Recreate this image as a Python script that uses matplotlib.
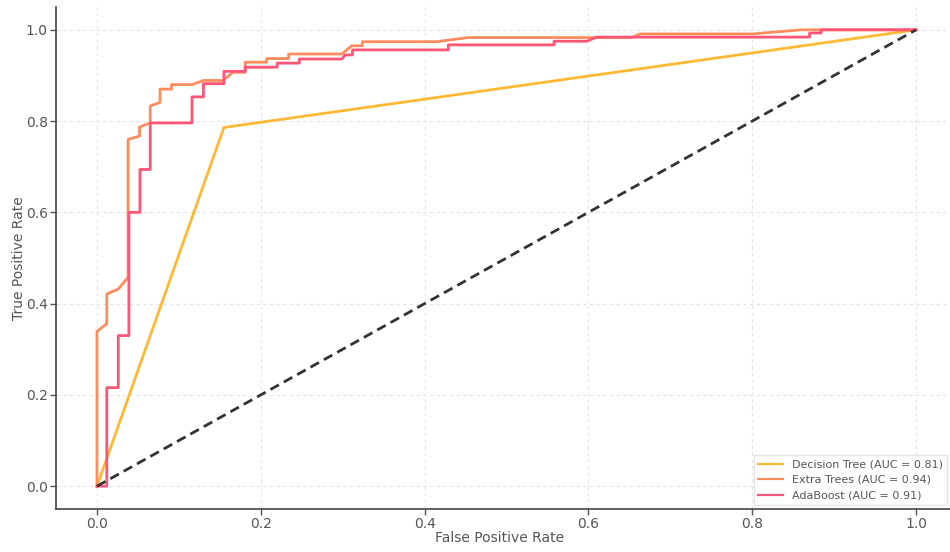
import matplotlib
matplotlib.use("Agg")
import matplotlib.pyplot as plt

# ---- data ----
dt_fpr = [0.0, 0.155, 1.0]
dt_tpr = [0.0, 0.786, 1.0]

et_fpr = [0.0, 0.0, 0.012, 0.012, 0.026, 0.038, 0.038, 0.052, 0.052, 0.065, 0.065, 0.077,
          0.077, 0.091, 0.091, 0.116, 0.130, 0.154, 0.166, 0.181, 0.181, 0.207, 0.207,
          0.234, 0.234, 0.299, 0.311, 0.324, 0.324, 0.415, 0.453, 0.653, 0.663, 0.80,
          0.86, 1.0]
et_tpr = [0.0, 0.339, 0.356, 0.421, 0.432, 0.458, 0.760, 0.767, 0.787, 0.796, 0.833, 0.841,
          0.870, 0.870, 0.880, 0.880, 0.889, 0.889, 0.907, 0.907, 0.929, 0.929, 0.937,
          0.937, 0.947, 0.947, 0.965, 0.965, 0.974, 0.974, 0.983, 0.983, 0.991, 0.991,
          1.0, 1.0]

ab_fpr = [0.0, 0.012, 0.012, 0.026, 0.026, 0.039, 0.039, 0.0525, 0.0525, 0.065, 0.065,
          0.116, 0.116, 0.130, 0.130, 0.155, 0.155, 0.181, 0.181, 0.220, 0.220, 0.247,
          0.247, 0.299, 0.303, 0.312, 0.312, 0.429, 0.429, 0.558, 0.558, 0.598, 0.610,
          0.870, 0.870, 0.884, 0.884, 1.0]
ab_tpr = [0.0, 0.0, 0.216, 0.216, 0.330, 0.330, 0.600, 0.600, 0.694, 0.694, 0.796,
          0.796, 0.853, 0.853, 0.882, 0.882, 0.909, 0.909, 0.918, 0.918, 0.927, 0.927,
          0.936, 0.936, 0.945, 0.945, 0.956, 0.956, 0.967, 0.967, 0.975, 0.975, 0.984,
          0.984, 0.993, 0.993, 1.0, 1.0]

labels = ["Decision Tree (AUC = 0.81)", "Extra Trees (AUC = 0.94)", "AdaBoost (AUC = 0.91)"]
colors = ["#FFB833", "#FF8C5C", "#FF5577"]

xticks = [0.0, 0.2, 0.4, 0.6, 0.8, 1.0]
yticks = [0.0, 0.2, 0.4, 0.6, 0.8, 1.0]

# ---- figure ----
W, H = 950, 552
fig = plt.figure(figsize=(W / 100, H / 100), dpi=100)
ax = fig.add_axes([56 / W, 43 / H, 901 / W, 502 / H])

ax.plot(dt_fpr, dt_tpr, color=colors[0], lw=2, label=labels[0])
ax.plot(et_fpr, et_tpr, color=colors[1], lw=2, label=labels[1])
ax.plot(ab_fpr, ab_tpr, color=colors[2], lw=2, label=labels[2])
ax.plot([0, 1], [0, 1], color="#333333", lw=2, ls=(0, (3.5, 2)))

ax.set_xlim(-0.05, 1.05)
ax.set_ylim(-0.05, 1.05)
ax.set_xticks(xticks)
ax.set_yticks(yticks)
ax.set_xticklabels([f"{t:.1f}" for t in xticks])
ax.set_yticklabels([f"{t:.1f}" for t in yticks])

ax.grid(True, ls=(0, (3, 3)), color="#e3e3e3", lw=0.8)
for s in ["top", "right"]:
    ax.spines[s].set_visible(False)
for s in ["left", "bottom"]:
    ax.spines[s].set_color("#444444")
    ax.spines[s].set_linewidth(1.2)
ax.tick_params(colors="#555555", labelsize=10, length=4, width=1, pad=2)

ax.set_xlabel("False Positive Rate", color="#555555", fontsize=10)
ax.set_ylabel("True Positive Rate", color="#555555", fontsize=10)
ax.xaxis.set_label_coords((500 - 56) / 901, -(531 - 509) / 502)
ax.yaxis.set_label_coords(-(56 - 26) / 901, 0.5)

leg = ax.legend(loc="lower right", bbox_to_anchor=(947 / W, (H - 505) / H),
                bbox_transform=fig.transFigure, borderaxespad=0,
                fontsize=8, frameon=True, fancybox=False,
                edgecolor="#dddddd", handlelength=2.2)
for t in leg.get_texts():
    t.set_color("#555555")
for l in leg.get_lines():
    l.set_linewidth(1.6)

fig.savefig("out.png", dpi=100)
